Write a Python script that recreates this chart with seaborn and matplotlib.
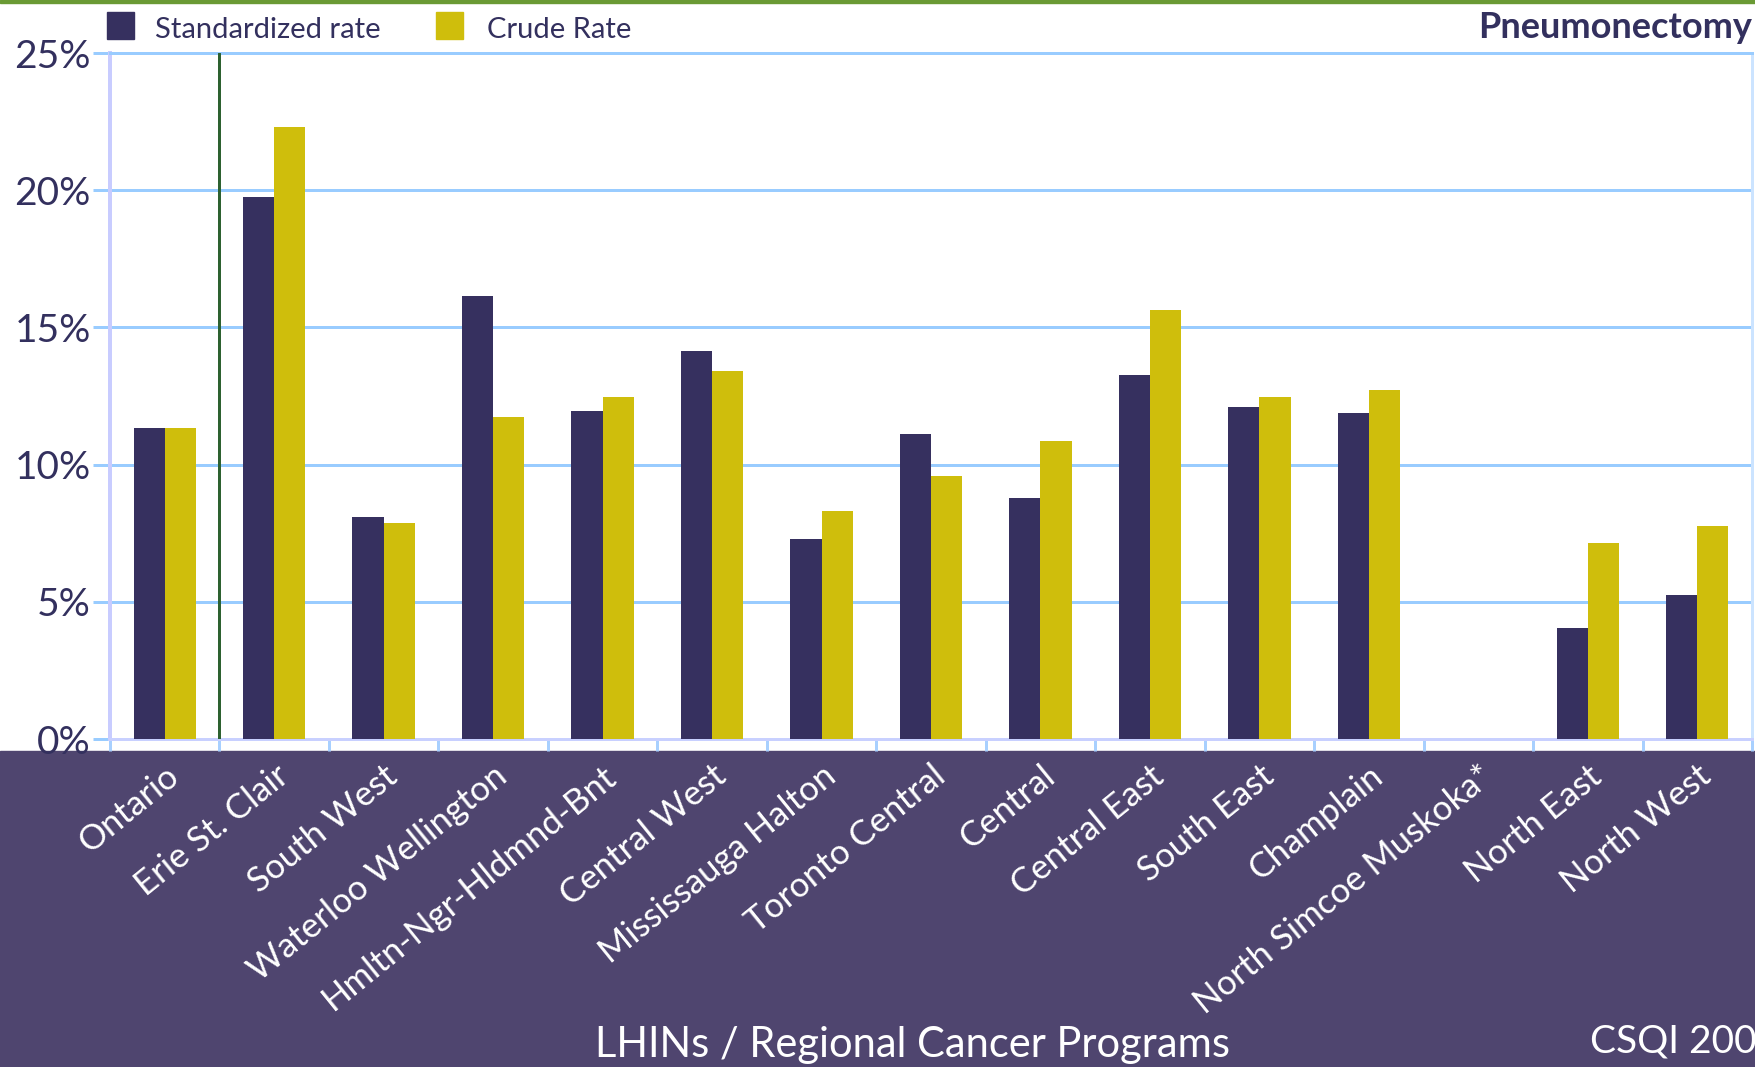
import numpy as np
import pandas as pd
import matplotlib
matplotlib.use("Agg")
import matplotlib.pyplot as plt
import seaborn as sns
from matplotlib.patches import Rectangle
from matplotlib.ticker import FixedLocator

# Pneumonectomy rates by LHIN / regional cancer program (percent)
regions = ["Ontario", "Erie St. Clair", "South West", "Waterloo Wellington",
           "Hmltn-Ngr-Hldmnd-Bnt", "Central West", "Mississauga Halton",
           "Toronto Central", "Central", "Central East", "South East",
           "Champlain", "North Simcoe Muskoka*", "North East", "North West"]
standardized_rate = [11.35, 19.75, 8.1, 16.15, 11.95, 14.15, 7.3, 11.1,
                     8.8, 13.25, 12.1, 11.87, np.nan, 4.03, 5.25]
crude_rate = [11.35, 22.3, 7.88, 11.75, 12.45, 13.4, 8.32, 9.6,
              10.85, 15.65, 12.45, 12.72, np.nan, 7.13, 7.76]
series_names = ["Standardized rate", "Crude Rate"]
y_ticks = [0, 5, 10, 15, 20, 25]

W, H, DPI = 1755, 1067, 100
PX = 72 / DPI  # points per pixel

sns.set_style("white")
plt.rcParams["font.family"] = ["Lato", "DejaVu Sans"]

NAVY = "#36305f"
GOLD = "#cfbe0c"
BAND = "#4f456f"
GRID = "#99ccff"
TEXT = "#33305e"

df = pd.DataFrame({
    "region": regions * 2,
    "series": [series_names[0]] * len(regions) + [series_names[1]] * len(regions),
    "rate": standardized_rate + crude_rate,
})


def fx(px):
    return px / W


def fy(py):
    return 1 - py / H


fig = plt.figure(figsize=(W / DPI, H / DPI), dpi=DPI)
fig.patch.set_facecolor("white")

# dark footer band and thin top rule, kept beneath the axes
fig.patches.append(Rectangle((0, 0), 1, fy(751), transform=fig.transFigure,
                             color=BAND, zorder=-2))
fig.patches.append(Rectangle((0, fy(3)), 1, 3 / H, transform=fig.transFigure,
                             color="#6a9a34", zorder=-2))

ax = fig.add_axes([fx(110), fy(739), fx(1752) - fx(110), fy(53) - fy(739)])

sns.barplot(data=df, x="region", y="rate", hue="series", order=regions,
            hue_order=series_names, palette=[NAVY, GOLD], width=0.57,
            saturation=1, linewidth=0, errorbar=None, legend=False,
            ax=ax, zorder=3)

ax.set_xlim(-0.5, len(regions) - 0.5)
ax.set_ylim(0, 25)

# y axis
ax.yaxis.set_major_locator(FixedLocator(y_ticks))
ax.set_yticklabels([f"{t}%" for t in y_ticks])
ax.grid(axis="y", color=GRID, lw=3 * PX, zorder=1)
ax.grid(axis="x", visible=False)
ax.tick_params(axis="y", left=True, length=17 * PX, width=3 * PX, color=GRID,
               pad=2 * PX, labelsize=28, labelcolor=TEXT, direction="out")

# x axis: labels at category centres, tick marks at boundaries
ax.set_xticks(range(len(regions)))
ax.set_xticklabels(regions)
ax.set_xticks(np.arange(-0.5, len(regions), 1.0), minor=True)
ax.tick_params(axis="x", which="minor", bottom=True, length=12 * PX,
               width=3 * PX, color="#a8d0ff", direction="out")
ax.tick_params(axis="x", which="major", bottom=True, length=0, pad=15,
               labelsize=25, labelcolor="white")
for lbl in ax.get_xticklabels():
    lbl.set_rotation(39)
    lbl.set_ha("right")
    lbl.set_va("top")
    lbl.set_rotation_mode("anchor")
ax.set_xlabel("")
ax.set_ylabel("")

# separator between the provincial total and the regions
ax.axvline(0.5, color="#2d6130", lw=3 * PX, zorder=4)

ax.spines["left"].set_color("#c8ccff")
ax.spines["left"].set_linewidth(4 * PX)
ax.spines["right"].set_color("#cce4ff")
ax.spines["right"].set_linewidth(3 * PX)
ax.spines["bottom"].set_color("#c8d0ff")
ax.spines["bottom"].set_linewidth(3 * PX)
ax.spines["top"].set_color(GRID)
ax.spines["top"].set_linewidth(3 * PX)

# legend swatches
legend_items = [(107, NAVY, 155, series_names[0]), (436, GOLD, 487, series_names[1])]
for sx, col, tx, name in legend_items:
    fig.patches.append(Rectangle((fx(sx), fy(39)), 27 / W, 27 / H,
                                 transform=fig.transFigure, color=col, zorder=2))
    fig.text(fx(tx), fy(38), name, ha="left", va="baseline", fontsize=21,
             color=TEXT)

fig.text(fx(1752), fy(38), "Pneumonectomy", ha="right", va="baseline",
         fontsize=26, fontweight="bold", color=TEXT)

fig.text(fx(912), fy(1057), "LHINs / Regional Cancer Programs", ha="center",
         va="baseline", fontsize=30, color="white")
fig.text(fx(1590), fy(1052), "CSQI 2006", ha="left", va="baseline",
         fontsize=28, color="white")

fig.savefig("out.png", dpi=DPI)
